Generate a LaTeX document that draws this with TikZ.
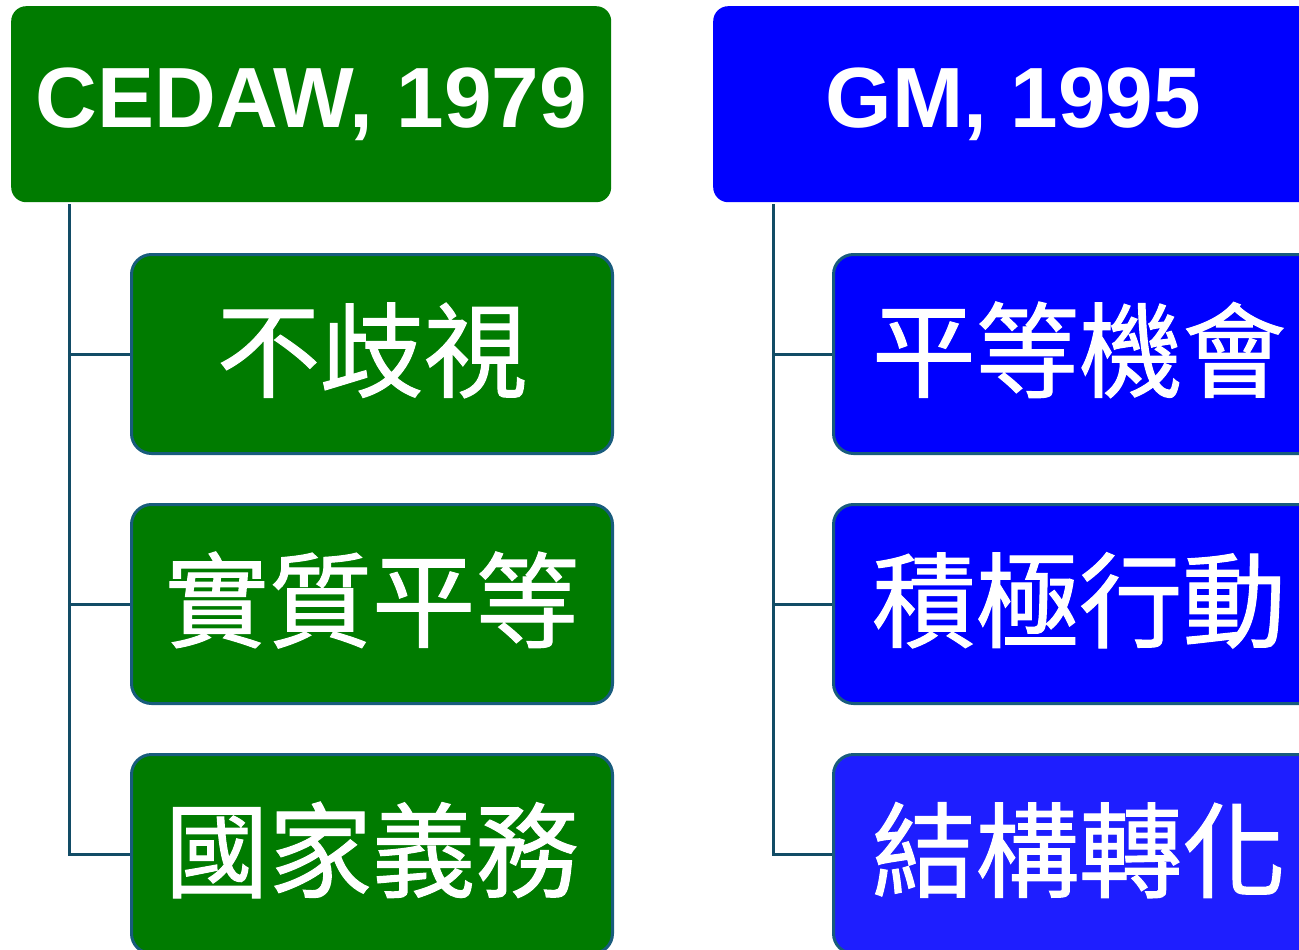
\documentclass[tikz,border=0pt]{standalone}
\usepackage{fontspec}
\setmainfont{Liberation Sans}
\newfontfamily\cjk[FakeBold=1]{Noto Sans CJK TC}
\definecolor{cgreen}{RGB}{0,123,0}
\definecolor{cblue}{RGB}{0,0,255}
\definecolor{cblueb}{RGB}{30,30,255}
\definecolor{cborder}{RGB}{24,92,124}
\definecolor{cline}{RGB}{18,76,102}
\tikzset{
  topbox/.style={rounded corners=15pt, minimum width=600pt, minimum height=196pt, anchor=north west, inner sep=0pt, text=white, font=\fontsize{85.5}{85.5}\selectfont\bfseries},
  subbox/.style={rounded corners=20pt, draw=cborder, line width=3pt, minimum width=481pt, minimum height=199pt, anchor=north west, inner sep=0pt, text height=80pt, text depth=9pt, text=white, font=\cjk\fontsize{103.5}{103.5}\selectfont},
  conn/.style={draw=cline, line width=3pt}
}
\begin{document}
\begin{tikzpicture}[x=1pt,y=-1pt]
\useasboundingbox (0,0) rectangle (1299,950);
\clip (0,0) rectangle (1299,950);
\node[topbox, fill=cgreen] (cedaw) at (11,6) {CEDAW, 1979};
\node[topbox, fill=cblue] (gm) at (713,6) {GM, 1995};
\node[subbox, fill=cgreen] (c1) at (130,253) {不歧視};
\node[subbox, fill=cgreen] (c2) at (130,503) {實質平等};
\node[subbox, fill=cgreen] (c3) at (130,753) {國家義務};
\node[subbox, fill=cblue, minimum width=491pt] (g1) at (832,253) {平等機會};
\node[subbox, fill=cblue, minimum width=491pt] (g2) at (832,503) {積極行動};
\node[subbox, fill=cblueb, minimum width=491pt] (g3) at (832,753) {結構轉化};
\coordinate (lt) at (69,204);
\coordinate (rt) at (773,204);
\draw[conn] (lt) |- (c1.west);
\draw[conn] (lt) |- (c2.west);
\draw[conn] (lt) |- (c3.west);
\draw[conn] (rt) |- (g1.west);
\draw[conn] (rt) |- (g2.west);
\draw[conn] (rt) |- (g3.west);
\end{tikzpicture}
\end{document}
